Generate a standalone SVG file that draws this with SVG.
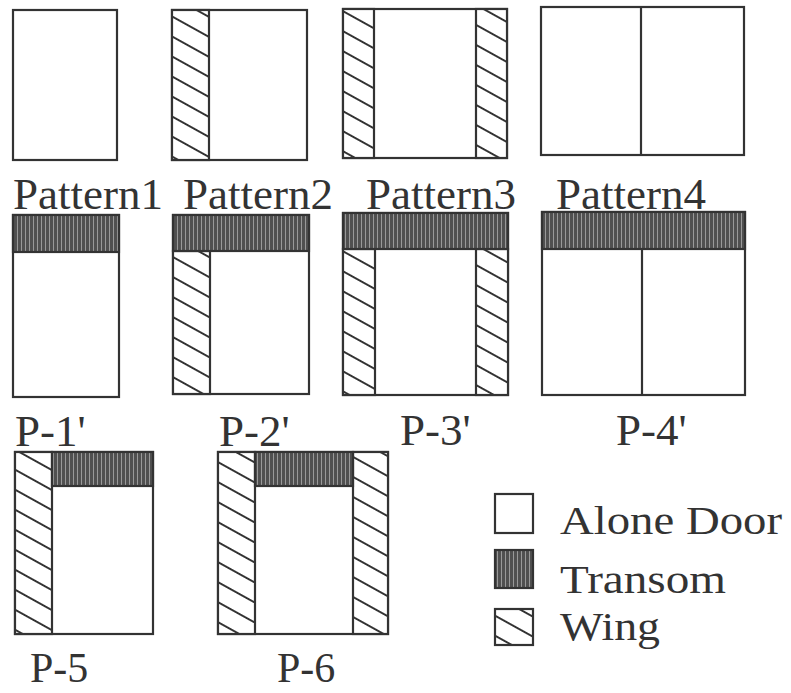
<svg xmlns="http://www.w3.org/2000/svg" width="791" height="693" viewBox="0 0 791 693">
<defs>
<pattern id="hatch" patternUnits="userSpaceOnUse" width="40" height="17.5" patternTransform="rotate(29)">
<rect width="40" height="17.5" fill="#fff"/>
<line x1="0" y1="1" x2="40" y2="1" stroke="#333" stroke-width="1.8"/>
</pattern>
<pattern id="transom" patternUnits="userSpaceOnUse" width="4" height="10">
<rect width="4" height="10" fill="#505050"/>
<line x1="1.5" y1="0" x2="1.5" y2="10" stroke="#999" stroke-width="1"/>
</pattern>
</defs>
<style>
.b{fill:#fff;stroke:#333;stroke-width:2.2}
.w{fill:url(#hatch);stroke:#333;stroke-width:2.2}
.t{fill:url(#transom);stroke:#333;stroke-width:2.2}
.l{stroke:#333;stroke-width:2.2}
text{font-family:"Liberation Serif","Times New Roman",serif;font-size:45px;fill:#333}
.s{font-size:42px}
.g{font-size:41px}
</style>
<rect width="791" height="693" fill="#fff"/>

<g id="pattern1">
<rect class="b" x="13" y="10" width="104" height="150"/>
<text x="13" y="209">Pattern1</text>
</g>
<g id="pattern2">
<rect class="b" x="172" y="10" width="135" height="150"/>
<rect class="w" x="172" y="10" width="37" height="150"/>
<text x="183" y="209">Pattern2</text>
</g>
<g id="pattern3">
<rect class="b" x="343" y="9" width="164" height="149"/>
<rect class="w" x="343" y="9" width="31" height="149"/>
<rect class="w" x="476" y="9" width="31" height="149"/>
<text x="366" y="209">Pattern3</text>
</g>
<g id="pattern4">
<rect class="b" x="541" y="7" width="203" height="148"/>
<line class="l" x1="641" y1="7" x2="641" y2="155"/>
<text x="556" y="209">Pattern4</text>
</g>

<g id="p1p">
<rect class="b" x="13" y="215" width="106" height="182"/>
<rect class="t" x="13" y="215" width="106" height="37"/>
<text x="15" y="446">P-1'</text>
</g>
<g id="p2p">
<rect class="b" x="173" y="215" width="136" height="179"/>
<rect class="w" x="173" y="251" width="37" height="143"/>
<rect class="t" x="173" y="215" width="136" height="36"/>
<text x="219" y="446">P-2'</text>
</g>
<g id="p3p">
<rect class="b" x="343" y="213" width="165" height="182"/>
<rect class="w" x="343" y="249" width="32" height="146"/>
<rect class="w" x="476" y="249" width="32" height="146"/>
<rect class="t" x="343" y="213" width="165" height="36"/>
<text x="400" y="445">P-3'</text>
</g>
<g id="p4p">
<rect class="b" x="542" y="212" width="203" height="183"/>
<line class="l" x1="642" y1="249" x2="642" y2="395"/>
<rect class="t" x="542" y="212" width="203" height="37"/>
<text x="616" y="445">P-4'</text>
</g>

<g id="p5">
<rect class="b" x="15" y="452" width="138" height="182"/>
<rect class="w" x="15" y="452" width="37" height="182"/>
<rect class="t" x="52" y="452" width="101" height="34"/>
<text class="s" x="30" y="682">P-5</text>
</g>
<g id="p6">
<rect class="b" x="218" y="452" width="170" height="182"/>
<rect class="w" x="218" y="452" width="37" height="182"/>
<rect class="w" x="353" y="452" width="35" height="182"/>
<rect class="t" x="255" y="452" width="98" height="34"/>
<text class="s" x="277" y="682">P-6</text>
</g>

<g id="legend">
<rect class="b" x="495" y="494" width="38" height="39"/>
<text class="g" x="560" y="534" textLength="222" lengthAdjust="spacingAndGlyphs">Alone Door</text>
<rect class="t" x="495" y="550" width="38" height="38"/>
<text class="g" x="560" y="593" textLength="166" lengthAdjust="spacingAndGlyphs">Transom</text>
<rect class="w" x="495" y="609" width="38" height="36"/>
<text class="g" x="560" y="640" textLength="100" lengthAdjust="spacingAndGlyphs">Wing</text>
</g>
</svg>
